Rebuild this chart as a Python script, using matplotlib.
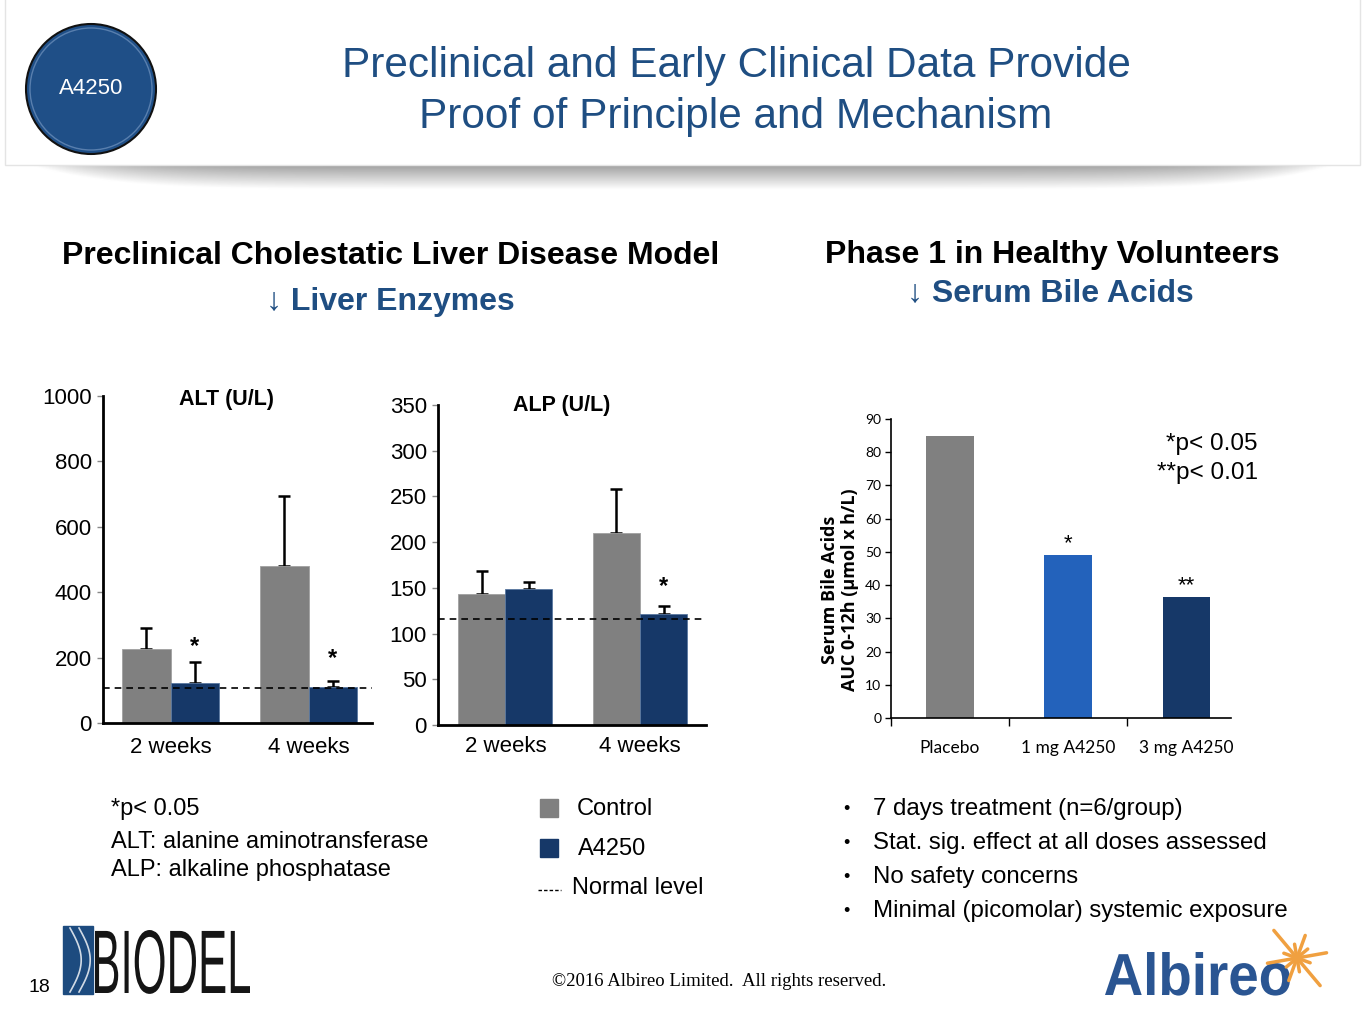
import numpy as np
import matplotlib
matplotlib.use("Agg")
import matplotlib.pyplot as plt
from matplotlib.patches import Circle, Rectangle, PathPatch
from matplotlib.textpath import TextPath
from matplotlib.font_manager import FontProperties
from matplotlib.transforms import Affine2D

# %% Data
groups = ["2 weeks", "4 weeks"]
alt_control = [227, 480]
alt_control_err = [64, 214]
alt_a4250 = [123, 110]
alt_a4250_err = [64, 18]
alt_normal = 108

alp_control = [143, 210]
alp_control_err = [25, 48]
alp_a4250 = [149, 121]
alp_a4250_err = [7, 9]
alp_normal = 116

bile_groups = ["Placebo", "1 mg A4250", "3 mg A4250"]
bile_auc = [85, 49, 36.4]
bile_marks = ["", "*", "**"]

bullets = ["7 days treatment (n=6/group)",
           "Stat. sig. effect at all doses assessed",
           "No safety concerns",
           "Minimal (picomolar) systemic exposure"]

# %% Style
W, H = 1365, 1024
GRAY = "#808080"
NAVY = "#163868"
BLUE = "#2362bb"
TITLE_BLUE = "#1f4e82"
FONT = "Liberation Sans"
ARROW_FONT = [FONT, "DejaVu Sans"]

fig = plt.figure(figsize=(W / 100, H / 100), dpi=100)
bg = fig.add_axes([0, 0, 1, 1])
bg.set_xlim(0, W)
bg.set_ylim(H, 0)
bg.axis("off")


def ax_rect(x0, x1, y_top, y_bot):
    return [x0 / W, 1 - y_bot / H, (x1 - x0) / W, (y_bot - y_top) / H]


def fitted_text(s, x0, x1, y_top, y_base, color, weight="normal"):
    # text squeezed into a box, like the logo lettering
    tp = TextPath((0, 0), s, size=1, prop=FontProperties(family=FONT, weight=weight))
    ext = tp.get_extents()
    sx = (x1 - x0) / ext.width
    sy = (y_base - y_top) / ext.y1
    tr = Affine2D().translate(-ext.x0, 0).scale(sx, -sy).translate(x0, y_base)
    bg.add_patch(PathPatch(tr.transform_path(tp), facecolor=color, lw=0))


# header box with shadow
shade = np.linspace(0.6, 1.0, 30).reshape(-1, 1)
edge = np.minimum(1, np.abs(np.linspace(-1, 1, 400)) ** 8 * 1.0)
grad = np.clip(shade + edge[None, :] * 0.5, 0, 1)
bg.imshow(grad, cmap="gray", vmin=0, vmax=1, extent=[5, 1360, 190, 163],
          aspect="auto", zorder=0)
bg.add_patch(Rectangle((5, -2), 1355, 167, facecolor="white",
                       edgecolor="#e4e4e4", lw=1, zorder=1))
bg.add_patch(Circle((91, 89), 65, facecolor="#1f4f87", edgecolor="#111111",
                    lw=1.5, zorder=2))
bg.add_patch(Circle((91, 89), 61, facecolor="none", edgecolor="#7f9fc8",
                    lw=1, zorder=2, alpha=0.6))
bg.text(91, 89, "A4250", color="white", fontsize=16, ha="center",
        va="center", family=FONT, zorder=3)
bg.text(736, 66, "Preclinical and Early Clinical Data Provide",
        color=TITLE_BLUE, fontsize=30.5, ha="center", va="center", family=FONT)
bg.text(736, 117, "Proof of Principle and Mechanism",
        color=TITLE_BLUE, fontsize=30.5, ha="center", va="center", family=FONT)

# section headings
bg.text(391, 256, "Preclinical Cholestatic Liver Disease Model", fontsize=23,
        weight="bold", ha="center", va="center", family=FONT)
bg.text(390, 302, "↓ Liver Enzymes", fontsize=23, weight="bold",
        color=TITLE_BLUE, ha="center", va="center", family=ARROW_FONT)
bg.text(1052, 255, "Phase 1 in Healthy Volunteers", fontsize=23,
        weight="bold", ha="center", va="center", family=FONT)
bg.text(1050, 293, "↓ Serum Bile Acids", fontsize=23, weight="bold",
        color=TITLE_BLUE, ha="center", va="center", family=ARROW_FONT)

# %% Preclinical bar charts
x = np.arange(len(groups))
bw = 0.35


def enzyme_chart(rect, ctrl, ctrl_err, drug, drug_err, normal, ymax, step,
                 title, title_y, star_y, xlim, xpad):
    ax = fig.add_axes(rect)
    ax.bar(x - bw / 2, ctrl, bw, color=GRAY, edgecolor="#a0a0a0", lw=0.6,
           zorder=2)
    ax.bar(x + bw / 2, drug, bw, color=NAVY, edgecolor="#5a78a0", lw=0.6,
           zorder=2)
    ax.errorbar(x - bw / 2, ctrl, yerr=[[0] * len(ctrl), ctrl_err], fmt="none",
                ecolor="black", elinewidth=1.8, capsize=4, capthick=1.8,
                zorder=1)
    ax.errorbar(x + bw / 2, drug, yerr=[[0] * len(drug), drug_err], fmt="none",
                ecolor="black", elinewidth=1.8, capsize=4, capthick=1.8,
                zorder=1)
    ax.axhline(normal, color="black", ls=(0, (4, 3)), lw=1.2, zorder=3)
    for xi, sy in zip(x, star_y):
        if sy is not None:
            ax.text(xi + bw / 2, sy, "*", fontsize=17, weight="bold",
                    ha="center", va="center", family=FONT)
    ax.set_xlim(*xlim)
    ax.set_ylim(0, ymax)
    ax.set_yticks(np.arange(0, ymax + 1, step))
    ax.set_xticks(x)
    ax.set_xticklabels(groups)
    ax.tick_params(axis="x", length=0, pad=xpad, labelsize=16)
    ax.tick_params(axis="y", length=4, width=1, color="#888888", pad=4,
                   labelsize=16)
    for lbl in ax.get_xticklabels() + ax.get_yticklabels():
        lbl.set_family(FONT)
    for s in ["top", "right"]:
        ax.spines[s].set_visible(False)
    for s in ["left", "bottom"]:
        ax.spines[s].set_linewidth(2)
    ax.set_facecolor("none")
    ax.text(0.46, title_y, title, transform=ax.transAxes, fontsize=15.5,
            weight="bold", ha="center", va="center", family=FONT)
    return ax


enzyme_chart(ax_rect(103, 372, 396, 723), alt_control, alt_control_err,
             alt_a4250, alt_a4250_err, alt_normal, 1000, 200, "ALT (U/L)",
             0.99, [234, 198], (-0.49, 1.46), 10)
enzyme_chart(ax_rect(438, 706, 405, 725), alp_control, alp_control_err,
             alp_a4250, alp_a4250_err, alp_normal, 350, 50, "ALP (U/L)",
             1.0, [None, 151], (-0.5, 1.49), 8)

# footnotes and legend
bg.text(111, 809, "*p< 0.05", fontsize=17, va="center", family=FONT)
bg.text(111, 842, "ALT: alanine aminotransferase", fontsize=17, va="center",
        family=FONT)
bg.text(111, 870, "ALP: alkaline phosphatase", fontsize=17, va="center",
        family=FONT)
bg.add_patch(Rectangle((540, 799), 18, 18, color=GRAY))
bg.add_patch(Rectangle((540, 839), 18, 18, color=NAVY))
bg.text(577, 809, "Control", fontsize=17, va="center", family=FONT)
bg.text(578, 849, "A4250", fontsize=17, va="center", family=FONT)
bg.plot([538, 561], [890, 890], color="black", ls=(0, (2.5, 1.5)), lw=1)
bg.text(572, 888, "Normal level", fontsize=17, va="center", family=FONT)

# %% Phase 1 bile acid chart
ax3 = fig.add_axes(ax_rect(891, 1231, 419, 718))
bx = np.arange(len(bile_groups))
ax3.bar(bx, bile_auc, 0.4, color=[GRAY, BLUE, NAVY], zorder=2)
for xi, v, m in zip(bx, bile_auc, bile_marks):
    if m:
        ax3.text(xi, v + 3.5, m, fontsize=16, ha="center", va="center",
                 family=FONT)
ax3.set_xlim(-0.5, 2.38)
ax3.set_ylim(0, 90)
ax3.set_yticks(np.arange(0, 91, 10))
ax3.set_xticks(bx)
ax3.set_xticklabels(bile_groups)
ax3.set_xticks([-0.5, 0.5, 1.5], minor=True)
ax3.tick_params(axis="x", which="major", length=0, pad=16, labelsize=12.5)
ax3.tick_params(axis="x", which="minor", length=6, width=1, direction="out")
ax3.tick_params(axis="y", length=4, width=1, pad=3, labelsize=10)
for lbl in ax3.get_xticklabels() + ax3.get_yticklabels():
    lbl.set_family("Lato")
for s in ["top", "right"]:
    ax3.spines[s].set_visible(False)
ax3.spines["left"].set_linewidth(1.2)
ax3.spines["bottom"].set_linewidth(1.2)
ax3.set_facecolor("none")
ax3.set_ylabel("Serum Bile Acids\nAUC 0-12h (µmol x h/L)", fontsize=13,
               weight="bold", family="Open Sans", linespacing=1.15)
ax3.yaxis.set_label_coords(-0.095, 0.43)

bg.text(1258, 444, "*p< 0.05", fontsize=17.5, ha="right", va="center",
        family=FONT)
bg.text(1258, 473, "**p< 0.01", fontsize=17.5, ha="right", va="center",
        family=FONT)
for i, b in enumerate(bullets):
    yy = 809 + i * 34
    bg.text(846, yy, "•", fontsize=13, ha="center", va="center", family=FONT)
    bg.text(873, yy, b, fontsize=17.3, va="center", family=FONT)

# %% Footer
bg.text(28, 988, "18", fontsize=14, va="center", family=FONT)
bg.add_patch(Rectangle((63, 926), 30, 68, color="#1d4b7f"))
for off in [0, 9]:
    tt = np.linspace(0, 1, 30)
    bg.plot(70 + off + 14 * np.sin(tt * np.pi) * 0.8, 928 + 64 * tt,
            color="white", lw=1.2, alpha=0.8)
fitted_text("BIODEL", 95, 250, 930, 993, "#151515")
bg.text(719, 981, "©2016 Albireo Limited.  All rights reserved.", fontsize=13.5,
        ha="center", va="center", family="Liberation Serif")
fitted_text("Albireo", 1105, 1290, 952, 995, "#2a5592", weight="bold")
cx, cy = 1297, 958
for ang, ln in zip(np.arange(0, 360, 30), [30, 14, 24, 14, 36, 14, 30, 14, 24, 14, 36, 14]):
    r = np.deg2rad(ang + 10)
    bg.plot([cx, cx + ln * np.cos(r)], [cy, cy - ln * np.sin(r)],
            color="#f0a040", lw=2.5, solid_capstyle="round")

fig.savefig("out.png", dpi=100)
